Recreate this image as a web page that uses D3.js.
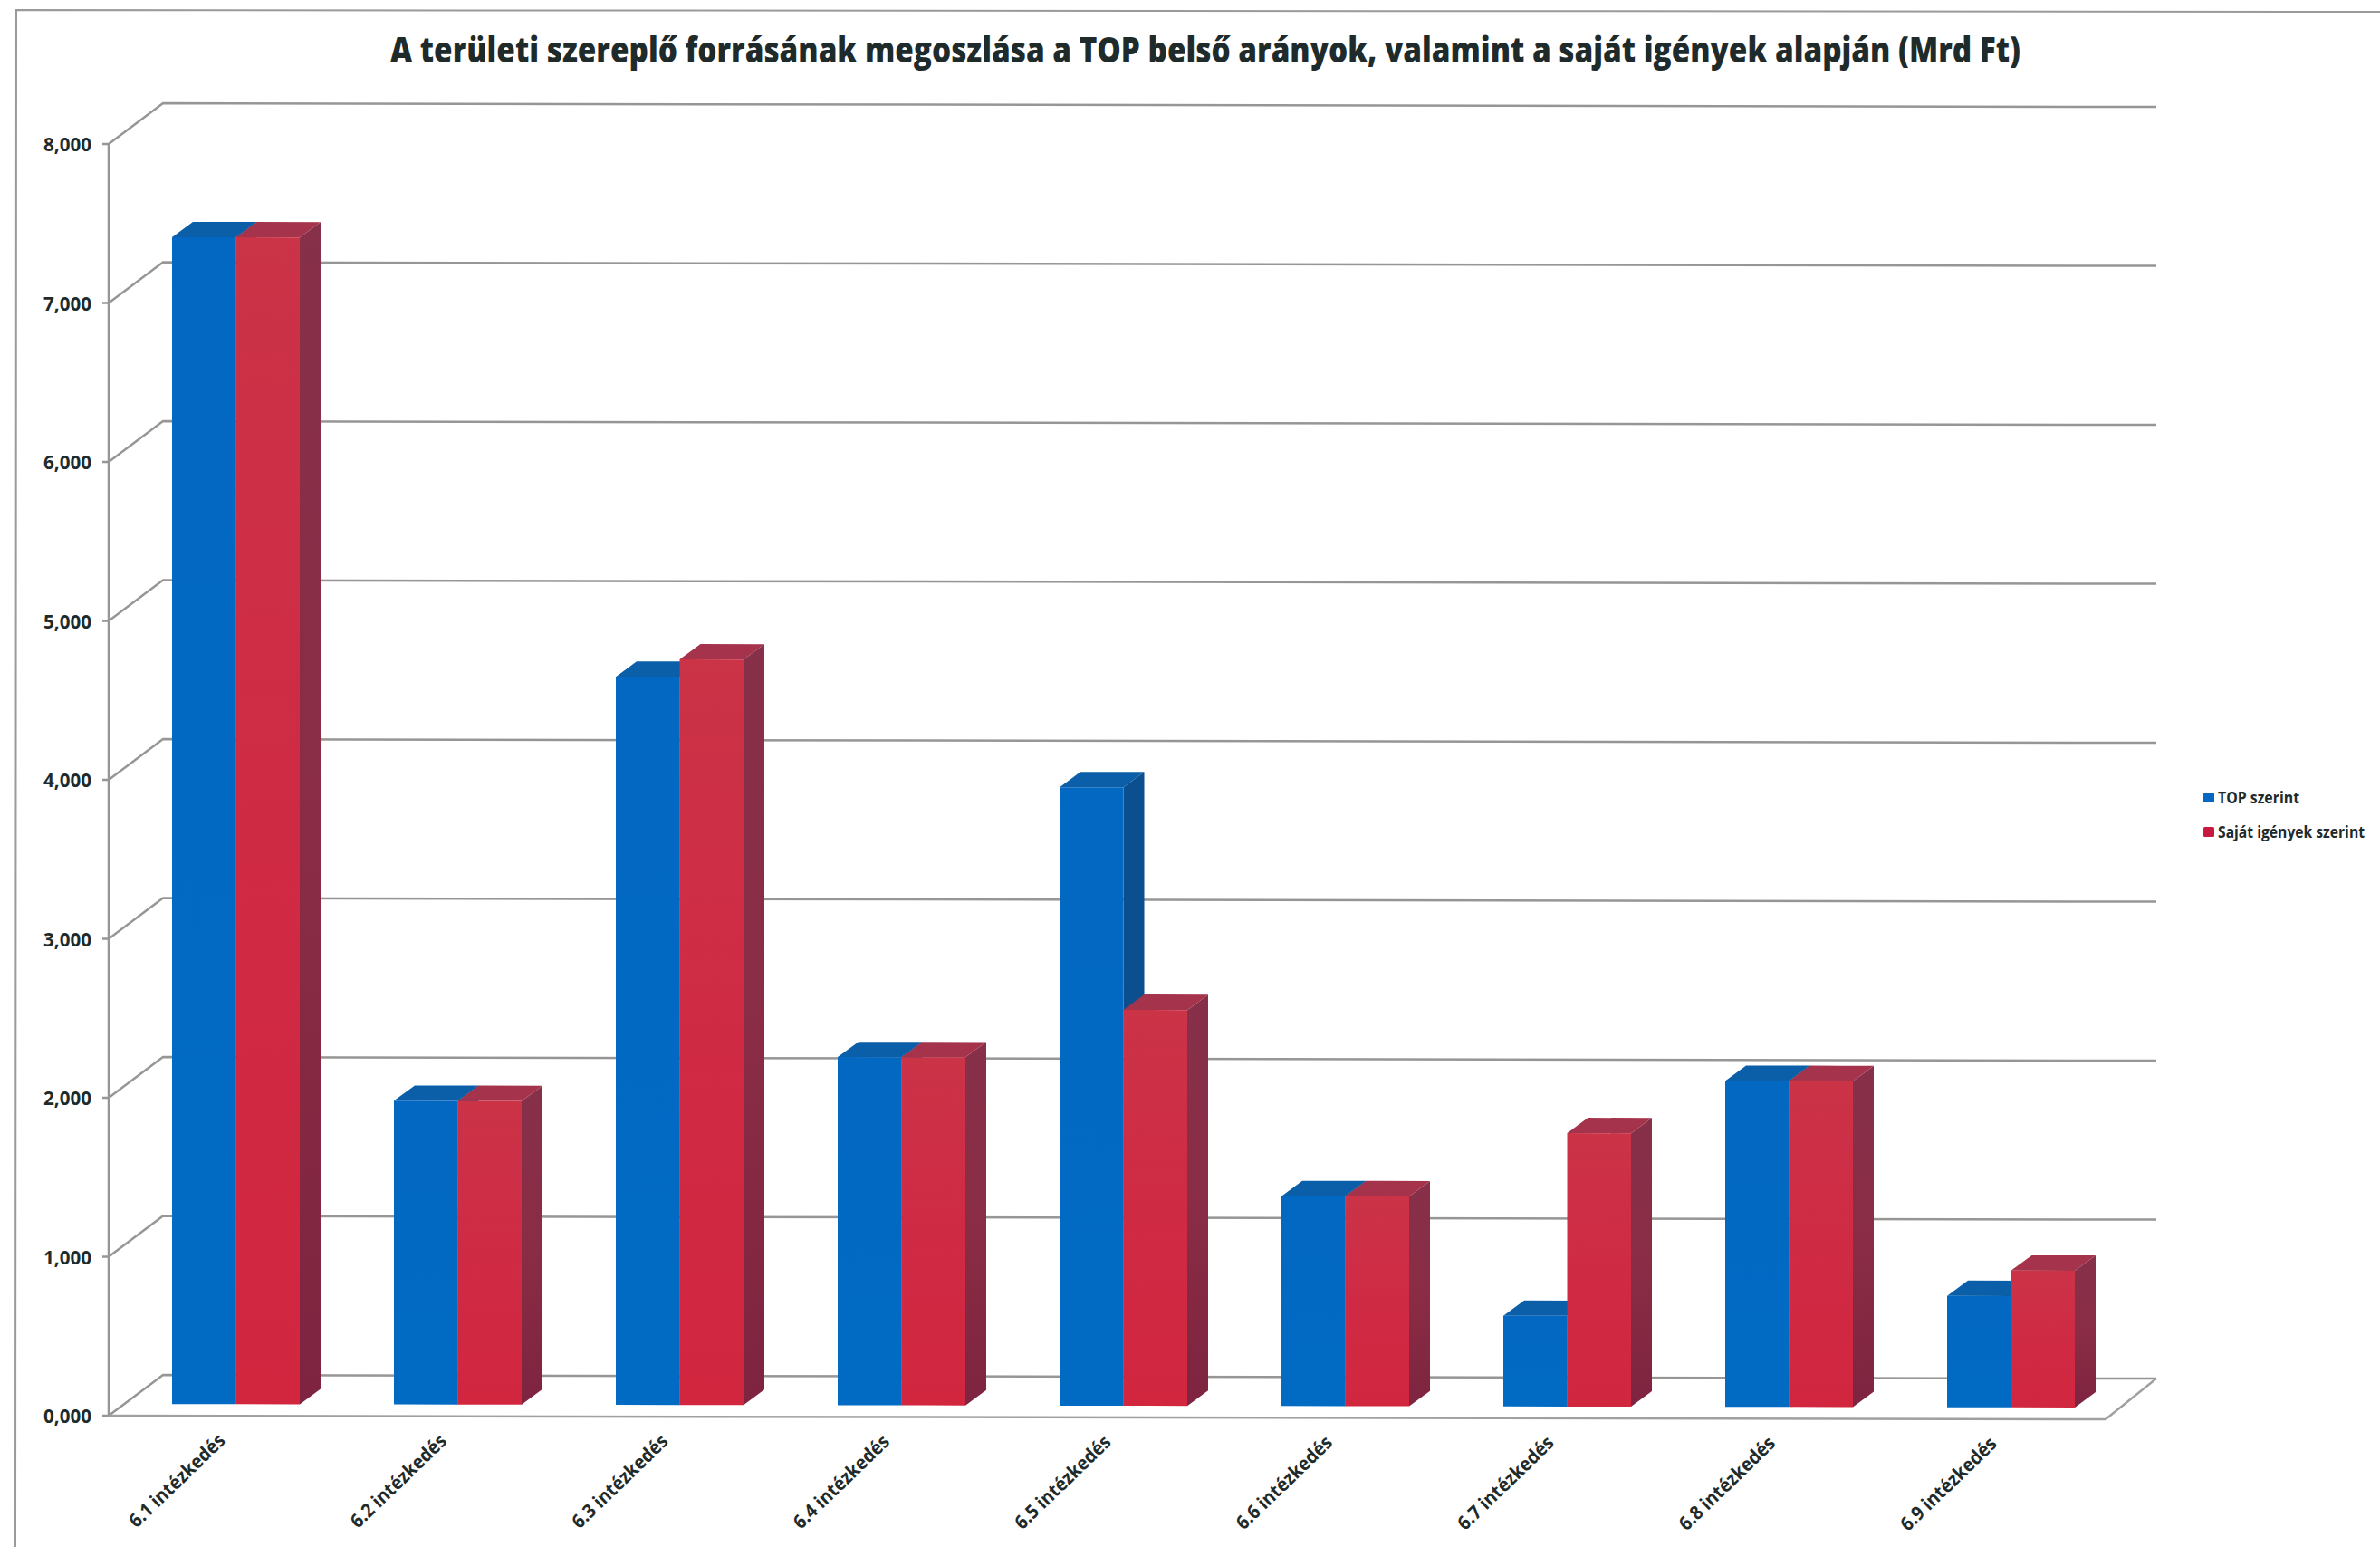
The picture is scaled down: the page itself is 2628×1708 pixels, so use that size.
<!DOCTYPE html>
<html><head><meta charset="utf-8">
<script src="https://cdn.jsdelivr.net/npm/d3@7"></script>
<style>html,body{margin:0;padding:0;background:#fff}svg{display:block}</style>
</head><body><div id="c"></div>
<script>
const categories = ["6.1 intézkedés","6.2 intézkedés","6.3 intézkedés","6.4 intézkedés","6.5 intézkedés","6.6 intézkedés","6.7 intézkedés","6.8 intézkedés","6.9 intézkedés"];
const seriesNames = ["TOP szerint","Saját igények szerint"];
const topValues = [7.34,1.91,4.58,2.19,3.89,1.32,0.57,2.05,0.70];
const ownValues = [7.34,1.91,4.69,2.19,2.49,1.32,1.72,2.05,0.86];
const yTicks = [0,1,2,3,4,5,6,7,8];
const titleText = "A területi szereplő forrásának megoszlása a TOP belső arányok, valamint a saját igények alapján (Mrd Ft)";

const W = 2628, H = 1708;
const font = "'Open Sans','Noto Sans',sans-serif";
const ink = "#1f2b2b", gridCol = "#989595";
const wall = {dx:60, dy:-45}, barFront = {dx:18, dy:-13}, barDepth = {dx:23, dy:-17};
const tilt = 0.0018;

const svg = d3.select("#c").append("svg").attr("width",W).attr("height",H);
const defs = svg.append("defs");
function grad(id, stops){
  const g = defs.append("linearGradient").attr("id",id).attr("x1",0).attr("y1",0).attr("x2",0).attr("y2",1);
  stops.forEach((c,i)=>g.append("stop").attr("offset",i/(stops.length-1)).attr("stop-color",c));
}
grad("redFace",["#cb3347","#cf2a44","#d2263f"]);
grad("redSide",["#87304a","#8a2c45","#7e2440"]);
grad("blueFace",["#0368c2","#016bc4"]);

const x = d3.scaleBand().domain(categories).range([120,2325]);
const sub = d3.scaleBand().domain(seriesNames).range([52,193]);
const y = d3.scaleLinear().domain([0,8]).range([1563,159]);
const fmt = d3.formatLocale({decimal:",",thousands:".",grouping:[3],currency:["",""]}).format(".3f");

// page frame
svg.append("path").attr("fill","none").attr("stroke","#9a9a9a").attr("stroke-width",2)
  .attr("d",`M17,${H} L18,11 L${W},13`);

// title
svg.append("text").attr("x",1331).attr("y",69).attr("text-anchor","middle")
  .attr("font-family",font).attr("font-weight",800).attr("font-size",39).attr("fill",ink)
  .attr("textLength",1800).attr("lengthAdjust","spacingAndGlyphs").text(titleText);

const plot = svg.append("g").attr("transform",`translate(0,${-tilt*120}) matrix(1,${tilt},0,1,0,0)`);
const xL = x.range()[0], xR = x.range()[1];

// gridlines on the side and back walls
plot.append("g").selectAll("path").data(yTicks).join("path")
  .attr("fill","none").attr("stroke",gridCol).attr("stroke-width",2.5)
  .attr("d",d=>`M${xL},${y(d)} L${xL+wall.dx},${y(d)+wall.dy} L${xR+wall.dx-4},${y(d)+wall.dy}`);

// floor front and right edge
plot.append("path").attr("fill","none").attr("stroke","#a0a0a0").attr("stroke-width",2.5)
  .attr("d",`M${xL},${y(0)} L${xR},${y(0)} L${xR+wall.dx-4},${y(0)+wall.dy}`);

// value axis
plot.append("line").attr("x1",xL).attr("x2",xL).attr("y1",y(8)).attr("y2",y(0))
  .attr("stroke",gridCol).attr("stroke-width",2.5);
plot.append("g").selectAll("line").data(yTicks).join("line")
  .attr("x1",xL-7).attr("x2",xL).attr("y1",d=>y(d)).attr("y2",d=>y(d))
  .attr("stroke",gridCol).attr("stroke-width",2.5);

// bars
const rows = categories.map((c,i)=>[
  {c,s:seriesNames[0],v:topValues[i],face:"url(#blueFace)",side:"#0b4f8e",top:"#0a5fa8"},
  {c,s:seriesNames[1],v:ownValues[i],face:"url(#redFace)",side:"url(#redSide)",top:"#a4334b"}
]);
const bars = plot.append("g").selectAll("g").data(rows.flat()).join("g");
function geom(d){
  const x0 = x(d.c)+sub(d.s)+barFront.dx, x1 = x0+sub.bandwidth();
  const y0 = y(d.v)+barFront.dy, y1 = y(0)+barFront.dy;
  return {x0,x1,y0,y1};
}
bars.append("path").attr("fill",d=>d.side).attr("d",d=>{const g=geom(d);
  return `M${g.x1},${g.y0} L${g.x1+barDepth.dx},${g.y0+barDepth.dy} L${g.x1+barDepth.dx},${g.y1+barDepth.dy} L${g.x1},${g.y1}Z`;});
bars.append("path").attr("fill",d=>d.top).attr("d",d=>{const g=geom(d);
  return `M${g.x0},${g.y0} L${g.x0+barDepth.dx},${g.y0+barDepth.dy} L${g.x1+barDepth.dx},${g.y0+barDepth.dy} L${g.x1},${g.y0}Z`;});
bars.append("rect").attr("fill",d=>d.face)
  .attr("x",d=>geom(d).x0).attr("y",d=>geom(d).y0)
  .attr("width",sub.bandwidth()).attr("height",d=>geom(d).y1-geom(d).y0);

// tick labels
svg.append("g").selectAll("text").data(yTicks).join("text")
  .attr("x",101).attr("y",d=>y(d)+8).attr("text-anchor","end")
  .attr("font-family",font).attr("font-weight",700).attr("font-size",21).attr("fill",ink)
  .attr("textLength",53).attr("lengthAdjust","spacingAndGlyphs").text(fmt);

// category labels
svg.append("g").selectAll("text").data(categories).join("text")
  .attr("text-anchor","end").attr("font-family",font).attr("font-weight",700).attr("font-size",21).attr("fill",ink)
  .attr("textLength",138).attr("lengthAdjust","spacingAndGlyphs")
  .attr("transform",(d,i)=>`translate(${x(d)+130-i*0.5},${1592+tilt*(x(d)-120)}) rotate(-44)`).text(d=>d);

// legend
const legend = svg.append("g").selectAll("g").data(seriesNames).join("g")
  .attr("transform",(d,i)=>`translate(2433,${880+i*38})`);
legend.append("rect").attr("y",-5).attr("width",12).attr("height",11).attr("rx",1.5)
  .attr("fill",(d,i)=>i?"#c8193f":"#0468c2");
legend.append("text").attr("x",16).attr("y",7).attr("font-family",font).attr("font-weight",700)
  .attr("font-size",17).attr("fill",ink)
  .attr("textLength",(d,i)=>i?162:90).attr("lengthAdjust","spacingAndGlyphs").text(d=>d);
</script></body></html>
